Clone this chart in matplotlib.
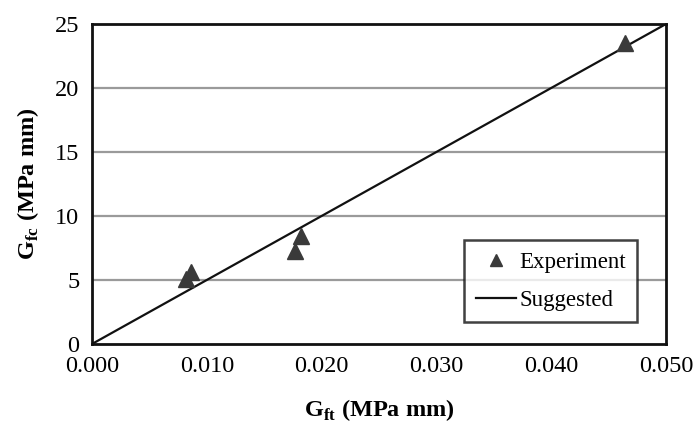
import matplotlib
matplotlib.use("Agg")
import matplotlib.pyplot as plt
import numpy as np

# Fracture energy data: tension (x) vs compression (y)
g_ft = [0.0082, 0.0086, 0.0177, 0.0182, 0.0464]
g_fc = [5.1, 5.6, 7.3, 8.4, 23.5]

# Suggested linear relation G_fc = 500 * G_ft
line_x = [0.0, 0.05]
slope = 500.0

x_ticks = [0.0, 0.01, 0.02, 0.03, 0.04, 0.05]
y_ticks = [0, 5, 10, 15, 20, 25]

plt.rcParams['font.family'] = ['Liberation Serif', 'DejaVu Serif']
plt.rcParams['mathtext.fontset'] = 'custom'
plt.rcParams['mathtext.rm'] = 'Liberation Serif'
plt.rcParams['mathtext.bf'] = 'Liberation Serif:bold'

fig = plt.figure(figsize=(7.0, 4.24), dpi=100)
ax = fig.add_axes([0.1314, 0.1887, 0.8200, 0.7547])

ax.set_xlim(0, 0.05)
ax.set_ylim(0, 25)
ax.set_xticks(x_ticks)
ax.set_yticks(y_ticks)
ax.set_xticklabels([f"{v:.3f}" for v in x_ticks])
ax.set_yticklabels([str(v) for v in y_ticks])
ax.tick_params(length=0, labelsize=17.5, colors='#000000')
ax.tick_params(axis='x', pad=9)
ax.tick_params(axis='y', pad=9)

for y in y_ticks[1:-1]:
    ax.axhline(y, color='#9a9a9a', lw=1.6, zorder=1)

for s in ax.spines.values():
    s.set_linewidth(2.0)
    s.set_color('#111111')

ax.plot(g_ft, g_fc, linestyle='none', marker='^', ms=12, color='#3a3a3a',
        label='Experiment', zorder=3)
ax.plot(line_x, [slope * v for v in line_x], color='#111111', lw=1.6,
        label='Suggested', zorder=2)

ax.set_xlabel(r'$\mathbf{G}_{\mathbf{ft}}$ (MPa mm)', fontsize=17.5,
              fontweight='bold', labelpad=14)
ax.set_ylabel(r'$\mathbf{G}_{\mathbf{fc}}$ (MPa mm)', fontsize=17.5,
              fontweight='bold', labelpad=10)

leg = ax.legend(loc='lower right', bbox_to_anchor=(0.950, 0.068), fontsize=16.5,
                frameon=True, fancybox=False, edgecolor='#111111',
                handlelength=1.75, handletextpad=0.15, borderpad=0.5,
                labelspacing=0.75, markerscale=0.75, borderaxespad=0.0)
leg.get_frame().set_linewidth(1.8)

fig.savefig('out.png', dpi=100, facecolor='white')
